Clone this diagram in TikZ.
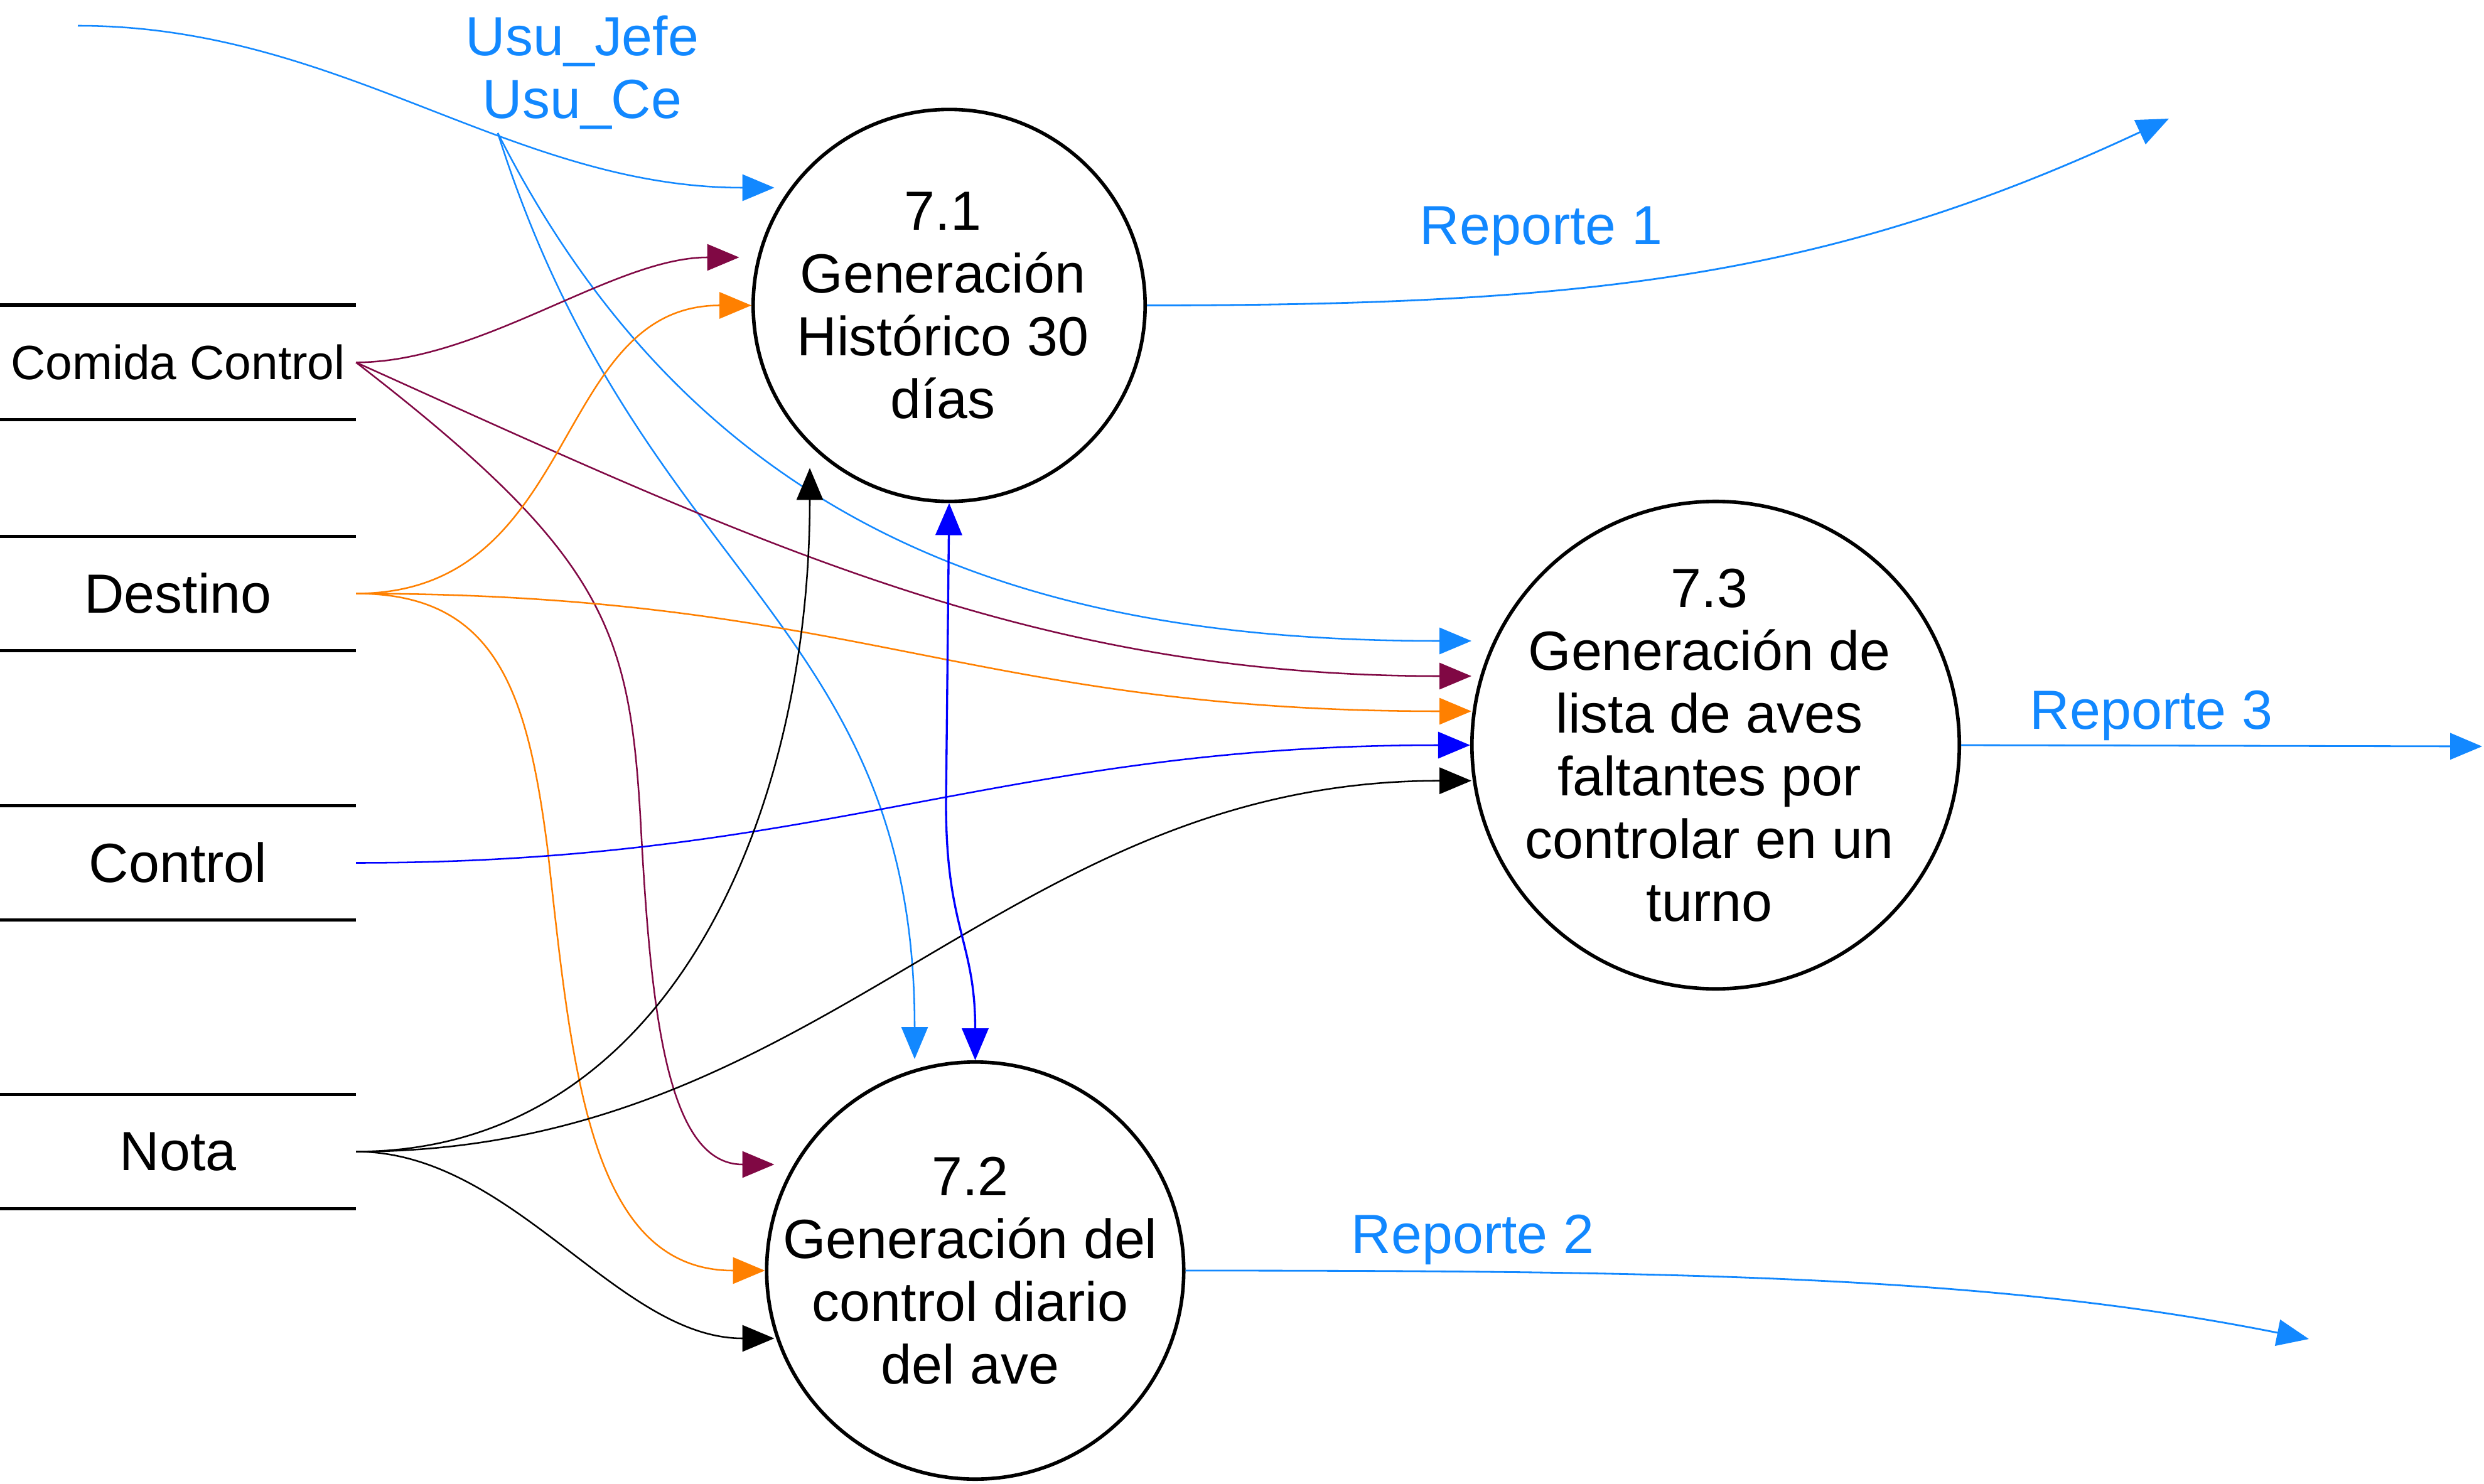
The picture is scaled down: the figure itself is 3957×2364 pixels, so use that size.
\documentclass[tikz,border=0pt]{standalone}
\usepackage{fontspec}
\setmainfont{Liberation Sans}
\usetikzlibrary{arrows.meta}
\definecolor{lblue}{RGB}{18,136,255}
\definecolor{dfdmaroon}{RGB}{128,8,68}
\definecolor{orng}{RGB}{255,128,0}
\definecolor{pblue}{RGB}{0,0,255}
\definecolor{blk}{RGB}{20,20,20}
\begin{document}
\begin{tikzpicture}[x=0.01cm,y=-0.01cm,
  bigfont/.style={font=\fontsize{25pt}{28.45pt}\selectfont},
  proc/.style={circle, draw=black, line width=1.6pt, inner sep=0pt},
  ptext/.style={bigfont, align=center, inner sep=0pt},
  store/.style={minimum width=5.67cm, minimum height=1.82cm, inner sep=0pt, outer sep=0pt, bigfont},
  storeline/.style={line width=1.6pt, black},
  flow/.style={line width=0.72pt, -{Triangle[length=14.5pt,width=12pt]}},
  dflow/.style={line width=0.95pt, {Triangle[length=14.5pt,width=12pt]}-{Triangle[length=14.5pt,width=12pt]}},
  rflow/.style={flow, line width=0.8pt},
  lbl/.style={bigfont, text=lblue, inner sep=0pt},
]
\useasboundingbox (0,0) rectangle (3957,2364);

% processes
\node[proc, minimum size=6.24cm] (p71) at (1512,486.5) {};
\node[proc, minimum size=7.76cm] (p73) at (2733,1187) {};
\node[proc, minimum size=6.64cm] (p72) at (1553.5,2024) {};
\node[ptext] (t71) at ([xshift=-0.1cm]p71.center) {7.1\\Generación\\Histórico 30\\días};
\node[ptext] (t73) at ([xshift=-0.1cm]p73.center) {7.3\\Generación de\\lista de aves\\faltantes por\\controlar en un\\turno};
\node[ptext] (t72) at ([xshift=-0.08cm]p72.center) {7.2\\Generación del\\control diario\\del ave};

% data stores
\node[store] (s1) at (283.5,577.3) {\fontsize{21.8pt}{25pt}\selectfont Comida Control};
\node[store] (s2) at (283.5,945.5) {Destino};
\node[store] (s3) at (283.5,1374.5) {Control};
\node[store] (s4) at (283.5,1834.5) {Nota};
\foreach \s in {s1,s2,s3,s4}
  \draw[storeline] (\s.north west) -- (\s.north east) (\s.south west) -- (\s.south east);

% free ends
\coordinate (usuin) at (124,41);
\coordinate (r1end) at (3455,189);
\coordinate (r2end) at (3678,2133);
\coordinate (r3end) at (3954,1189);

% Usu_Jefe / Usu_Ce
\draw[flow, lblue] (usuin) .. controls +(420,0) and +(-420,0) .. ([shift={(-278.4,-187.5)}]p71.center) coordinate[pos=0.61] (split);
\draw[flow, lblue] (split) .. controls +(338,668) and +(-650,0) .. ([shift={(-389,-166)}]p73.center);
\draw[flow, lblue] (split) .. controls +(225,713) and +(0,-700) .. ([shift={(-96.5,-337)}]p72.center);

% Comida Control
\draw[flow, dfdmaroon] (s1.east) .. controls +(200,0) and +(-200,0) .. ([shift={(-334.5,-76.5)}]p71.center);
\draw[flow, dfdmaroon] (s1.east) .. controls +(637,287) and +(-700,0) .. ([shift={(-389,-110)}]p73.center);
\draw[flow, dfdmaroon] (s1.east) .. controls +(395,305) and +(-18,-300) .. (1020,1300) .. controls +(16,300) and +(-174,0) .. ([shift={(-320,-169)}]p72.center);

% Destino
\draw[flow, orng] (s2.east) .. controls +(359,0) and +(-320,0) .. (p71.west);
\draw[flow, orng] (s2.east) .. controls +(800,0) and +(-800,0) .. ([shift={(-389,-54)}]p73.center);
\draw[flow, orng] (s2.east) .. controls +(223,0) and +(-32.5,-250) .. (872,1350) .. controls +(39,350) and +(-281,0) .. (p72.west);

% Control
\draw[flow, pblue] (s3.east) .. controls +(750,0) and +(-750,0) .. (p73.west);

% Nota
\draw[flow, black] (s4.east) .. controls +(500,0) and +(0,550) .. ([shift={(-222,259)}]p71.center);
\draw[flow, black] (s4.east) .. controls +(750,0) and +(-750,0) .. ([shift={(-389,56.7)}]p73.center);
\draw[flow, black] (s4.east) .. controls +(250,0) and +(-250,0) .. ([shift={(-320,108)}]p72.center);

% 7.1 <-> 7.2
\draw[dflow, pblue] (p71.south) -- (1507,1280) .. controls +(0,200) and +(0,-190) .. (p72.north);

% reports
\draw[rflow, lblue] (p71.east) .. controls +(700,0) and +(-544,254) .. (r1end);
\draw[rflow, lblue] (p72.east) .. controls +(800,0) and +(-500,-100) .. (r2end);
\draw[rflow, lblue] (p73.east) -- (r3end);

% labels
\node[lbl, align=center] (usu) at (927.5,115) {Usu\_Jefe\\Usu\_Ce};
\node[lbl, anchor=base] (rep1) at (2455,389.6) {Reporte 1};
\node[lbl, anchor=base] (rep2) at (2346,1996) {Reporte 2};
\node[lbl, anchor=base] (rep3) at (3427,1161) {Reporte 3};
\end{tikzpicture}
\end{document}
